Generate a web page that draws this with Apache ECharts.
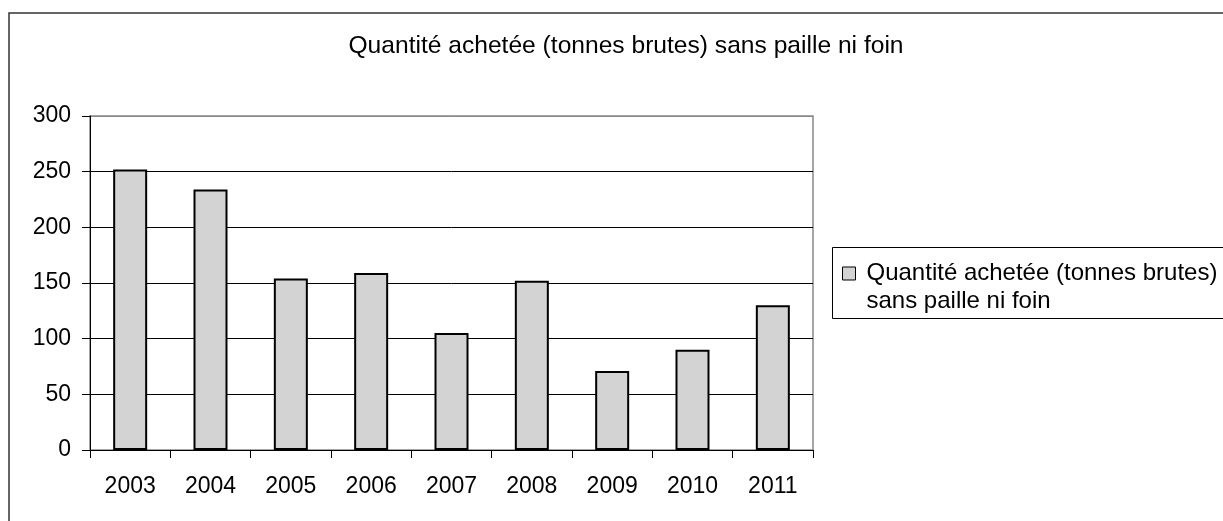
<!DOCTYPE html>
<html>
<head>
<meta charset="utf-8">
<script src="https://cdn.jsdelivr.net/npm/echarts@6/dist/echarts.min.js"></script>
<style>
  html, body { margin: 0; padding: 0; background: #fff; }
  #chart { width: 1223px; height: 521px; }
</style>
</head>
<body>
<div id="chart"></div>
<script>
// données
const years = ["2003", "2004", "2005", "2006", "2007", "2008", "2009", "2010", "2011"];
const quantites = [252, 234, 154, 159, 105, 152, 71, 90, 130];
const yTicks = { min: 0, max: 300, step: 50 };
const serieName = "Quantité achetée (tonnes brutes)\nsans paille ni foin";
const titre = "Quantité achetée (tonnes brutes) sans paille ni foin";

const font = "'Liberation Sans', Arial, sans-serif";
let myChart = echarts.init(document.getElementById("chart"));

let option = {
  animation: false,
  textStyle: { fontFamily: font },
  title: {
    text: titre,
    left: 621,
    textAlign: "center",
    top: 29,
    textStyle: { fontSize: 24.6, fontWeight: "normal", color: "#000", fontFamily: font }
  },
  graphic: [
    {
      type: "rect",
      shape: { x: 9, y: 13, width: 1300, height: 600 },
      style: { fill: "none", stroke: "#333", lineWidth: 1.5 }
    },
    {
      type: "rect",
      shape: { x: 832.5, y: 247.5, width: 500, height: 71 },
      style: { fill: "none", stroke: "#000", lineWidth: 1 }
    }
  ],
  legend: {
    left: 842,
    top: 231.5,
    padding: 0,
    icon: "rect",
    itemWidth: 13,
    itemHeight: 13,
    itemStyle: { color: "#d3d3d3", borderColor: "#000", borderWidth: 1 },
    // ligne vide devant pour aligner le carré sur la première ligne
    formatter: name => "\n" + name,
    textStyle: {
      fontSize: 24,
      lineHeight: 28,
      color: "#000",
      fontFamily: font,
      padding: [0, 0, 0, 6]
    },
    data: [serieName]
  },
  grid: {
    left: 90,
    top: 116,
    right: 410,
    bottom: 71,
    show: true,
    borderColor: "#888",
    borderWidth: 1.5
  },
  xAxis: {
    type: "category",
    data: years,
    boundaryGap: true,
    axisLine: { lineStyle: { color: "#000", width: 1 } },
    axisTick: { show: true, length: 8, interval: 0, lineStyle: { color: "#000" } },
    axisLabel: { fontSize: 23, color: "#000", margin: 25, interval: 0, fontFamily: font }
  },
  yAxis: {
    type: "value",
    min: yTicks.min,
    max: yTicks.max,
    interval: yTicks.step,
    axisLine: { show: true, lineStyle: { color: "#000", width: 1 } },
    axisTick: { show: true, length: 8, lineStyle: { color: "#000" } },
    axisLabel: { fontSize: 23, color: "#000", margin: 19, fontFamily: font },
    splitLine: {
      show: true,
      lineStyle: { color: ["#000", "#000", "#000", "#000", "#000", "#000", "#888"], width: 1 }
    }
  },
  series: [
    {
      name: serieName,
      type: "bar",
      data: quantites,
      barWidth: 34,
      itemStyle: { color: "#d3d3d3", borderColor: "#000", borderWidth: 2 }
    }
  ]
};
myChart.setOption(option);
</script>
</body>
</html>
